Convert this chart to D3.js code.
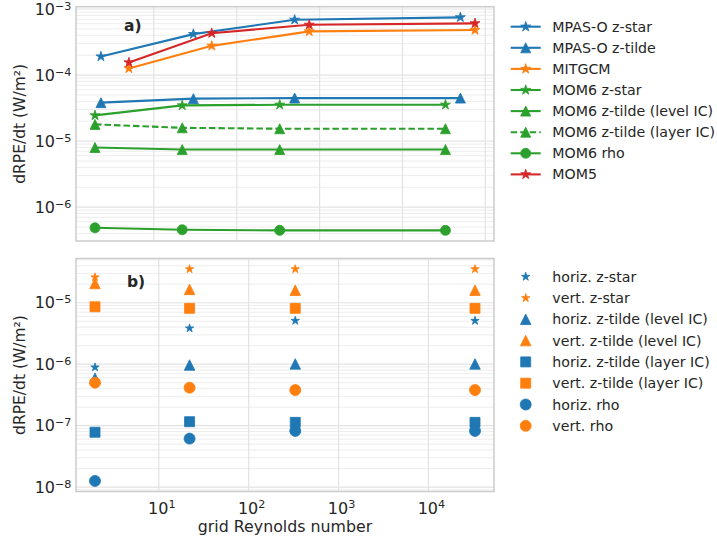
<!DOCTYPE html>
<html>
<head>
<meta charset="utf-8">
<script src="https://cdn.jsdelivr.net/npm/d3@7"></script>
<style>
  body { margin: 0; background: #fff; }
  text { font-family: "DejaVu Sans", sans-serif; fill: #262626; }
</style>
</head>
<body>
<div id="chart"></div>
<script>
const width = 717
const height = 542
const frameX = {left: 76, right: 494}
const topPanel = {top: 6.7, bottom: 241}
const botPanel = {top: 258.5, bottom: 491.5}

const blue = "#1f77b4", orange = "#ff7f0e", green = "#2ca02c", red = "#d62728"

// grid Reynolds numbers
const reMPAS = [2.3, 30, 500, 50000]
const reMIT = [5, 50, 750, 75000]
const reMOM6 = [1.95, 22, 330, 33000]

// panel a) dRPE/dt
const mpasZstar = [1.91e-4, 4.17e-4, 6.88e-4, 7.48e-4]
const mpasZtilde = [3.82e-5, 4.39e-5, 4.48e-5, 4.48e-5]
const mitgcm = [1.26e-4, 2.77e-4, 4.58e-4, 4.80e-4]
const mom6Zstar = [2.45e-5, 3.47e-5, 3.55e-5, 3.55e-5]
const mom6TildeLevel = [8.0e-6, 7.45e-6, 7.45e-6, 7.45e-6]
const mom6TildeLayer = [1.79e-5, 1.59e-5, 1.54e-5, 1.54e-5]
const mom6Rho = [4.86e-7, 4.54e-7, 4.45e-7, 4.45e-7]
const mom5 = [1.55e-4, 4.31e-4, 5.77e-4, 6.07e-4]

// panel b) horizontal / vertical contributions (MOM6)
const horizZstar = [8.9e-7, 3.84e-6, 5.1e-6, 5.1e-6]
const vertZstar = [2.6e-5, 3.53e-5, 3.53e-5, 3.53e-5]
const horizTildeLevel = [5.9e-7, 9.7e-7, 1.01e-6, 1.01e-6]
const vertTildeLevel = [2.06e-5, 1.65e-5, 1.6e-5, 1.6e-5]
const horizTildeLayer = [7.8e-8, 1.16e-7, 1.13e-7, 1.13e-7]
const vertTildeLayer = [8.6e-6, 8.1e-6, 8.1e-6, 8.1e-6]
const horizRho = [1.26e-8, 6.15e-8, 8.2e-8, 8.2e-8]
const vertRho = [5.0e-7, 4.15e-7, 3.8e-7, 3.8e-7]

const topXTicks = [1e1, 1e2, 1e3, 1e4, 1e5]
const botXTicks = [1e1, 1e2, 1e3, 1e4]
const topYTicks = [1e-3, 1e-4, 1e-5, 1e-6]
const botYTicks = [1e-5, 1e-6, 1e-7, 1e-8]

// marker shapes, size = marker size in px (matplotlib style)
const star = {draw(c, s) {
    const R = s / 2, r = R * 0.381966
    for (let i = 0; i < 10; i++) {
        const a = -Math.PI / 2 + i * Math.PI / 5
        const rr = i % 2 ? r : R
        i ? c.lineTo(rr * Math.cos(a), rr * Math.sin(a)) : c.moveTo(rr * Math.cos(a), rr * Math.sin(a))
    }
    c.closePath()
}}
const triUp = {draw(c, s) { const h = s / 2; c.moveTo(0, -h); c.lineTo(h, h); c.lineTo(-h, h); c.closePath() }}
const square = {draw(c, s) { c.rect(-s / 2, -s / 2, s, s) }}
const circle = {draw(c, s) { c.moveTo(s / 2, 0); c.arc(0, 0, s / 2, 0, 2 * Math.PI) }}

const topSeries = [
    {name: "MPAS-O z-star", x: reMPAS, y: mpasZstar, color: blue, shape: star, ms: 10.5},
    {name: "MPAS-O z-tilde", x: reMPAS, y: mpasZtilde, color: blue, shape: triUp, ms: 10},
    {name: "MITGCM", x: reMIT, y: mitgcm, color: orange, shape: star, ms: 10.5},
    {name: "MOM6 z-star", x: reMOM6, y: mom6Zstar, color: green, shape: star, ms: 10.5},
    {name: "MOM6 z-tilde (level IC)", x: reMOM6, y: mom6TildeLevel, color: green, shape: triUp, ms: 10},
    {name: "MOM6 z-tilde (layer IC)", x: reMOM6, y: mom6TildeLayer, color: green, shape: triUp, ms: 10, dash: "6.5,3"},
    {name: "MOM6 rho", x: reMOM6, y: mom6Rho, color: green, shape: circle, ms: 10},
    {name: "MOM5", x: reMIT, y: mom5, color: red, shape: star, ms: 10.5}
]
const botSeries = [
    {name: "horiz. z-star", y: horizZstar, color: blue, shape: star, ms: 8.8},
    {name: "vert. z-star", y: vertZstar, color: orange, shape: star, ms: 8.8},
    {name: "horiz. z-tilde (level IC)", y: horizTildeLevel, color: blue, shape: triUp, ms: 10.5},
    {name: "vert. z-tilde (level IC)", y: vertTildeLevel, color: orange, shape: triUp, ms: 10.5},
    {name: "horiz. z-tilde (layer IC)", y: horizTildeLayer, color: blue, shape: square, ms: 10},
    {name: "vert. z-tilde (layer IC)", y: vertTildeLayer, color: orange, shape: square, ms: 10},
    {name: "horiz. rho", y: horizRho, color: blue, shape: circle, ms: 11},
    {name: "vert. rho", y: vertRho, color: orange, shape: circle, ms: 11}
]
botSeries.forEach(s => s.x = reMOM6)

const logPad = function(vals) {
    const lo = Math.log10(d3.min(vals)), hi = Math.log10(d3.max(vals))
    const pad = (hi - lo) * 0.05
    return [Math.pow(10, lo - pad), Math.pow(10, hi + pad)]
}

const svg = d3.select("div#chart").append("svg").attr("width", width).attr("height", height)
svg.append("rect").attr("width", width).attr("height", height).attr("fill", "#fff")

const supLabel = function(sel, exp) {
    sel.append("tspan").text("10")
    sel.append("tspan").attr("dy", "-0.45em").attr("font-size", "0.7em").text(String(exp).replace("-", "\u2212"))
}

function drawPanel(series, panel, xTicks, yTicks, showX, tag, tagPos) {
    const x = d3.scaleLog().domain(logPad(series.flatMap(d => d.x))).range([frameX.left, frameX.right])
    const y = d3.scaleLog().domain(logPad(series.flatMap(d => d.y))).range([panel.bottom, panel.top])
    const g = svg.append("g")

    const [y0, y1] = y.domain()
    const minor = []
    for (let e = Math.floor(Math.log10(y0)); e <= Math.ceil(Math.log10(y1)); e++) {
        for (let m = 2; m < 10; m++) {
            const v = m * Math.pow(10, e)
            if (v > y0 && v < y1) minor.push(v)
        }
    }
    g.append("g").selectAll("line").data(minor).enter().append("line")
        .attr("x1", frameX.left).attr("x2", frameX.right)
        .attr("y1", d => y(d)).attr("y2", d => y(d))
        .attr("stroke", "#ebebeb").attr("stroke-width", 0.9)
    g.append("g").selectAll("line").data(yTicks).enter().append("line")
        .attr("x1", frameX.left).attr("x2", frameX.right)
        .attr("y1", d => y(d)).attr("y2", d => y(d))
        .attr("stroke", "#e3e3e3").attr("stroke-width", 1.2)
    g.append("g").selectAll("line").data(xTicks).enter().append("line")
        .attr("y1", panel.top).attr("y2", panel.bottom)
        .attr("x1", d => x(d)).attr("x2", d => x(d))
        .attr("stroke", "#e3e3e3").attr("stroke-width", 1.2)

    g.append("rect").attr("x", frameX.left).attr("y", panel.top)
        .attr("width", frameX.right - frameX.left).attr("height", panel.bottom - panel.top)
        .attr("fill", "none").attr("stroke", "#cccccc").attr("stroke-width", 1.5)

    const clipId = "clip" + tag.replace(")", "")
    svg.append("clipPath").attr("id", clipId).append("rect")
        .attr("x", frameX.left).attr("y", panel.top)
        .attr("width", frameX.right - frameX.left).attr("height", panel.bottom - panel.top)
    const marks = g.append("g").attr("clip-path", `url(#${clipId})`)

    series.forEach(s => {
        const pts = s.x.map((d, i) => [d, s.y[i]])
        if (s.line) {
            marks.append("path").datum(pts)
                .attr("d", d3.line().x(d => x(d[0])).y(d => y(d[1])))
                .attr("fill", "none").attr("stroke", s.color).attr("stroke-width", 2.1)
                .attr("stroke-dasharray", s.dash || null)
        }
        marks.selectAll(null).data(pts).enter().append("path")
            .attr("transform", d => `translate(${x(d[0])},${y(d[1])})`)
            .attr("d", d3.symbol().type(s.shape).size(s.ms))
            .attr("fill", s.color).attr("stroke", s.color).attr("stroke-width", 0.8)
    })

    yTicks.forEach(t => {
        const txt = g.append("text").attr("x", frameX.left - 4.5).attr("y", y(t) + 5.6)
            .attr("text-anchor", "end").attr("font-size", 16)
        supLabel(txt, Math.round(Math.log10(t)))
    })
    if (showX) {
        xTicks.forEach(t => {
            const txt = g.append("text").attr("x", x(t) + 3).attr("y", 513.5)
                .attr("text-anchor", "middle").attr("font-size", 16)
            supLabel(txt, Math.round(Math.log10(t)))
        })
    }

    g.append("text").text(tag).attr("x", tagPos[0]).attr("y", tagPos[1])
        .attr("font-size", 15.5).attr("font-weight", "bold")

    g.append("text").text("dRPE/dt (W/m\u00b2)")
        .attr("transform", `translate(24.5, ${(panel.top + panel.bottom) / 2}) rotate(-90)`)
        .attr("text-anchor", "middle").attr("font-size", 15.5)
}

topSeries.forEach(s => s.line = true)
drawPanel(topSeries, topPanel, topXTicks, topYTicks, false, "a)", [124, 30.5])
drawPanel(botSeries, botPanel, botXTicks, botYTicks, true, "b)", [127, 287])

svg.append("text").text("grid Reynolds number")
    .attr("x", (frameX.left + frameX.right) / 2).attr("y", 532)
    .attr("text-anchor", "middle").attr("font-size", 15.8)

// legends
function drawLegend(series, y0, step) {
    const lg = svg.append("g")
    series.forEach((s, i) => {
        const cy = y0 + i * step
        if (s.line) {
            lg.append("line").attr("x1", 510.7).attr("x2", 540.7).attr("y1", cy).attr("y2", cy)
                .attr("stroke", s.color).attr("stroke-width", 2.1).attr("stroke-dasharray", s.dash || null)
        }
        lg.append("path").attr("transform", `translate(525.7,${cy})`)
            .attr("d", d3.symbol().type(s.shape).size(s.ms))
            .attr("fill", s.color).attr("stroke", s.color).attr("stroke-width", 0.8)
        lg.append("text").text(s.name).attr("x", 552.3).attr("y", cy + 5)
            .attr("font-size", 14.2)
    })
}
drawLegend(topSeries, 26.7, 21.1)
drawLegend(botSeries, 276.7, 21.3)
</script>
</body>
</html>
